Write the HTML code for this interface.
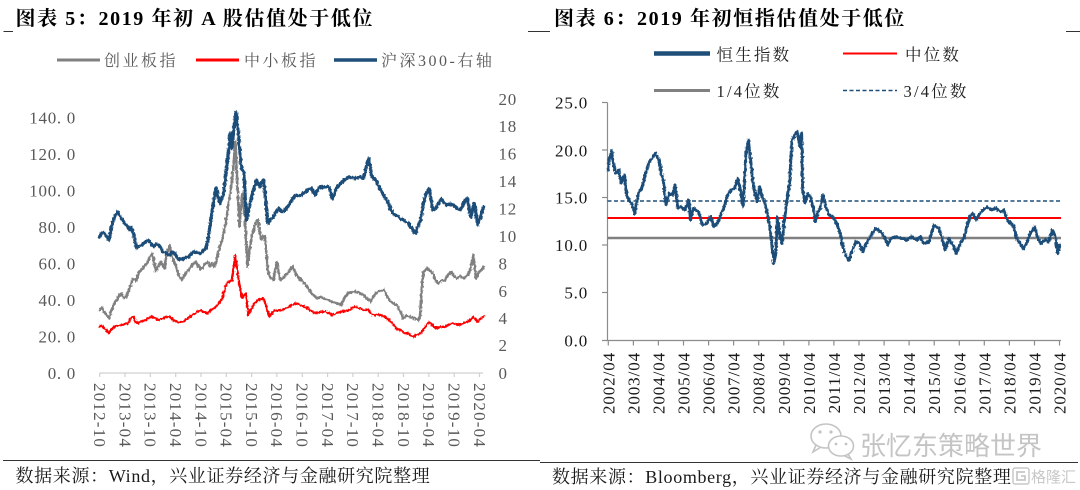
<!DOCTYPE html>
<html><head><meta charset="utf-8">
<style>
html,body{margin:0;padding:0;background:#fff;}
svg{display:block;}
.t{font-family:"Liberation Serif","Noto Serif CJK SC",serif;}
</style></head>
<body>
<svg width="1080" height="490" viewBox="0 0 1080 490" xmlns="http://www.w3.org/2000/svg">
<defs>
<filter id="jit" filterUnits="userSpaceOnUse" x="0" y="0" width="1080" height="490">
<feTurbulence type="fractalNoise" baseFrequency="0.55 0.35" numOctaves="2" seed="7" result="n"/>
<feDisplacementMap in="SourceGraphic" in2="n" scale="3.2" xChannelSelector="R" yChannelSelector="G"/>
</filter>
</defs>
<rect width="1080" height="490" fill="#fff"/>

<!-- Titles -->
<g class="t" font-weight="bold" font-size="20" fill="#000" letter-spacing="1.6">
<text x="15.5" y="25">图表 5：2019 年初 A 股估值处于低位</text>
<text x="554" y="25">图表 6：2019 年初恒指估值处于低位</text>
</g>
<g stroke="#333" stroke-width="1">
<line x1="3.5" y1="31.5" x2="13" y2="31.5"/>
<line x1="528" y1="31.5" x2="550" y2="31.5"/>
<line x1="1066" y1="31.5" x2="1080" y2="31.5"/>
</g>

<!-- LEFT LEGEND -->
<line x1="57" y1="60" x2="100" y2="60" stroke="#808080" stroke-width="3"/>
<line x1="196" y1="60" x2="239" y2="60" stroke="#ff0000" stroke-width="3"/>
<line x1="334" y1="60" x2="377" y2="60" stroke="#1f4e79" stroke-width="3.5"/>
<g class="t" font-size="16" fill="#595959" letter-spacing="2.5">
<text x="104" y="66">创业板指</text>
<text x="244" y="66">中小板指</text>
<text x="381" y="66">沪深300-右轴</text>
</g>

<!-- LEFT AXIS LABELS -->
<g class="t" font-size="17" fill="#595959" letter-spacing="0.7" text-anchor="end">
<text x="76" y="123.5">140. 0</text>
<text x="76" y="160">120. 0</text>
<text x="76" y="196.5">100. 0</text>
<text x="76" y="233">80. 0</text>
<text x="76" y="269.5">60. 0</text>
<text x="76" y="306">40. 0</text>
<text x="76" y="342.5">20. 0</text>
<text x="76" y="379">0. 0</text>
</g>
<g class="t" font-size="17" fill="#595959" letter-spacing="0.7">
<text x="498.5" y="105">20</text>
<text x="498.5" y="132">18</text>
<text x="498.5" y="159.5">16</text>
<text x="498.5" y="187">14</text>
<text x="498.5" y="214.5">12</text>
<text x="498.5" y="242">10</text>
<text x="498.5" y="269.5">8</text>
<text x="498.5" y="297">6</text>
<text x="498.5" y="324">4</text>
<text x="498.5" y="351">2</text>
<text x="498.5" y="379">0</text>
</g>

<!-- LEFT X AXIS -->
<line x1="99.7" y1="373" x2="483" y2="373" stroke="#d0d0d0" stroke-width="1.2"/>
<g stroke="#d0d0d0" stroke-width="1.2">
<line x1="99.7" y1="373" x2="99.7" y2="377"/><line x1="125" y1="373" x2="125" y2="377"/>
<line x1="150.3" y1="373" x2="150.3" y2="377"/><line x1="175.7" y1="373" x2="175.7" y2="377"/>
<line x1="201" y1="373" x2="201" y2="377"/><line x1="226.3" y1="373" x2="226.3" y2="377"/>
<line x1="251.6" y1="373" x2="251.6" y2="377"/><line x1="276.9" y1="373" x2="276.9" y2="377"/>
<line x1="302.3" y1="373" x2="302.3" y2="377"/><line x1="327.6" y1="373" x2="327.6" y2="377"/>
<line x1="352.9" y1="373" x2="352.9" y2="377"/><line x1="378.2" y1="373" x2="378.2" y2="377"/>
<line x1="403.5" y1="373" x2="403.5" y2="377"/><line x1="428.9" y1="373" x2="428.9" y2="377"/>
<line x1="454.2" y1="373" x2="454.2" y2="377"/><line x1="479.5" y1="373" x2="479.5" y2="377"/>
</g>
<g class="t" font-size="17" fill="#595959" letter-spacing="1.2">
<text transform="translate(94 383) rotate(90)">2012-10</text>
<text transform="translate(119.3 383) rotate(90)">2013-04</text>
<text transform="translate(144.6 383) rotate(90)">2013-10</text>
<text transform="translate(170 383) rotate(90)">2014-04</text>
<text transform="translate(195.3 383) rotate(90)">2014-10</text>
<text transform="translate(220.6 383) rotate(90)">2015-04</text>
<text transform="translate(245.9 383) rotate(90)">2015-10</text>
<text transform="translate(271.2 383) rotate(90)">2016-04</text>
<text transform="translate(296.6 383) rotate(90)">2016-10</text>
<text transform="translate(321.9 383) rotate(90)">2017-04</text>
<text transform="translate(347.2 383) rotate(90)">2017-10</text>
<text transform="translate(372.5 383) rotate(90)">2018-04</text>
<text transform="translate(397.8 383) rotate(90)">2018-10</text>
<text transform="translate(423.2 383) rotate(90)">2019-04</text>
<text transform="translate(448.5 383) rotate(90)">2019-10</text>
<text transform="translate(473.8 383) rotate(90)">2020-04</text>
</g>

<!-- LEFT SERIES -->
<g fill="none" stroke-linejoin="round" stroke-linecap="round" filter="url(#jit)">
<polyline stroke="#808080" stroke-width="2.6" points="99.7,310 101.5,307 103.8,311.7 106,314 109,318.3 111,312 114.2,303.3 117,300 119,296 121.2,293.3 124,298 126.3,296.7 129,290 131,284 133.3,278.3 136,281 138.5,273.3 141,270 143,268 145.4,265 148,262 150,257 152.3,253.3 154,262 155.8,271.7 158,266 161,261.7 163,266 164.4,268.3 166,258 168,250 169.6,245 171,252 172.5,258 174.8,263.3 177,270 179,276 181.7,280 184,276 186,273 188.7,270 191,266 193,264 195.6,261.7 198,265 200,269 202.5,268.3 205,264 207.7,261.7 210,266 212,263 214.6,266.7 217,258 219.8,246.7 222,240 225,226.7 226.5,218 228.5,203.3 230,195 231.9,180 233.5,165 235.4,141.7 236.3,160 237.1,180 238.3,205 239.5,226.7 241,205 242.3,193.3 243.5,205 245.1,220 246.3,245 247.5,266.7 248.5,258 249.9,246.7 252,236 254.4,226.7 256,222 257.9,220 259.5,230 261.3,240 263,236 264.8,236.7 266.5,255 268.3,273.3 271,278 273.5,280 275,270 276.9,261.7 278.5,272 280.4,280 283,278 285,275 287.3,273.3 290,270 292.5,266.7 295,272 297.7,276.7 301,280 304.6,283.3 308,288 311.5,293.3 314,296 316.7,298.3 320,297 323.7,298.3 328,300 332.3,301.7 336,303 341,305 344,299 347.9,293.3 352,292 356.5,291.7 360,293 363.5,295 367,299 370.4,301.7 373,297 375.6,293.3 380,291 384.2,290 387,296 389.4,300 393,303 396.3,305 400,311 403.3,318.3 406,316 410.2,316.7 414,318 418.8,320 420,316 421,300 422,285 423.5,272 427.5,268.3 430,271 432.7,273.3 435,279 437.9,283.3 441,281 444.8,280 448,275 451.7,271.7 454,276 456.9,278.3 460,276 463.8,278.3 466,276 469,273.3 471,266 473.5,255 474.8,268 476,278.3 478,274 479.4,271.7 481.5,270 483.6,266.7"/>
<polyline stroke="#ff0000" stroke-width="2.3" points="99.7,326.7 101.5,325 103.8,328.3 106,330 109,333.3 111,330 114.2,326.7 117,326 121.2,325 125,324 128.1,323.3 130,319 133.3,316.7 135,321 136.7,323.3 140,322 145.4,320 149,318 152.3,316.7 156,319 159.2,320 163,318 166,317 169.6,316.7 173,320 176.5,321.7 180,322 183.5,321.7 187,319 192.1,315 196,313 200.8,310 204,312 207.7,313.3 211,310 214.6,308.3 218,304 221.5,300 224,292 226.7,283.3 229,282 231.9,280 233.5,268 235.4,255 237,268 238.8,280 240.5,290 242.3,298.3 244,295 245.8,293.3 247.2,305 248.5,315 250.5,310 252.7,306.7 255,303 257.9,300 260.5,299 263.1,298.3 265,302 266.5,306.7 268,312 269.3,316.7 272,313 275.2,310 278,311 282.1,310 286,308 289,306.7 292,305 296,303.3 300,305 304.6,306.7 310,310 315,313.3 320,312 325.4,311.7 329,313 332.3,315 337,313 341,311.7 345,311 349.6,310 352,308 354.8,306.7 359,308 363.5,310 368.7,310 372.1,315 376,315 380.8,315 385,317 389.4,320 393,324 396.3,328.3 400,330 405,333.3 409,334 413.7,336.7 417,335 420.6,333.3 425,327 429.2,321.7 432,325 436.2,328.3 440,327 444.8,326.7 448,325 451.7,323.3 456,324 460.4,325 464,323 467.3,321.7 470,320 473.5,316.7 476,320 477.7,321.7 480,319 483.6,316.7"/>
<polyline stroke="#1f4e79" stroke-width="3.3" points="99.7,236.7 101.5,233 103.8,232.7 106,236 109,240 110.5,232 112.5,223.3 115,216 117.7,211.7 119.5,215 121.2,218.3 123,221 124.6,223.3 127,226 129.8,230 131.5,228 133.3,233.3 135,241 136.7,248.3 139,246 141.9,245 145,242 148.8,240 151,244 154,246.7 156.5,244 159.2,245 161,249 162.7,251.7 166,253 169.6,255 172,252 174.8,253.3 177,257 180,260 184,258 188.7,256.7 191,254 193.8,251.7 197,253 200.8,253.3 203.5,250 206,248.3 207.8,240 209.4,230 211,218 212.9,206.7 214.5,196 216.3,188.3 218,196 219.8,203.3 221.5,199 223.3,195 225,182 226.7,168.3 228.5,150 230.2,133.3 231.2,140 231.9,148.3 233.5,132 235,118 236.1,112.3 237.3,124 238.8,138.3 240,152 241.3,166.7 242.6,170 244,173.3 245.2,198 246.5,220 248,213 249.2,208.3 251.5,197 254.4,186.7 256,182 256.9,180 258.3,184 259.6,186.7 261.5,183 263.8,180 264.8,190 265.8,203.3 267,214 268.3,223.3 271,219 273.5,216.7 276,212 278.7,208.3 281,211 283.8,211.7 286.5,208 289,205 292.5,199 296,195 298.5,196 301.2,195 304,193 306.3,191.7 309,189 311.5,188.3 313.5,192 315,195 317.5,190 320.2,186.7 324,187 328.8,186.7 330.5,192 332.3,198.3 335,192 337.5,186.7 341,183 344.4,180 347,178 349.6,176.7 353,178 356.5,178.3 360,177 363.5,178.3 366,168 368.7,158.3 370.4,168 372.1,176.7 375.6,180 378,185 380.8,190 384,196 387.7,201.7 390,208 392.9,213.3 395.5,215 398.1,216.7 401,219 403.3,220 406,222 408.5,223.3 411.5,228 415.4,233.3 418,226 420.6,220 422.3,210 424,200 426.5,193 429.2,188.3 431,200 432.7,210 434.5,209 436.2,208.3 438.5,203 441.3,198.3 443.5,202 446.5,205 450,204 453.5,205 457,208 460.4,210 463,205 465,200 467.3,198.3 469,207 470.8,216.7 472.5,210 474.2,203.3 476,214 477.7,225 479.5,220 481.2,215 482.5,210 483.6,206.7"/>
</g>

<!-- RIGHT LEGEND -->
<line x1="654" y1="53.5" x2="710" y2="53.5" stroke="#1f4e79" stroke-width="4.5"/>
<line x1="843" y1="53.5" x2="897" y2="53.5" stroke="#ff0000" stroke-width="2"/>
<line x1="654" y1="90.5" x2="710" y2="90.5" stroke="#808080" stroke-width="3"/>
<line x1="843" y1="90.5" x2="897" y2="90.5" stroke="#1f4e79" stroke-width="1.5" stroke-dasharray="4,2.5"/>
<g class="t" font-size="16.5" fill="#222" letter-spacing="2.2">
<text x="716.5" y="60.5">恒生指数</text>
<text x="905" y="60.5">中位数</text>
<text x="716.5" y="97">1/4位数</text>
<text x="903.5" y="97">3/4位数</text>
</g>

<!-- RIGHT AXES -->
<g stroke="#8c8c8c" stroke-width="1.2">
<line x1="607.5" y1="102.5" x2="607.5" y2="340.5"/>
<line x1="602" y1="340.5" x2="1061" y2="340.5"/>
<line x1="602" y1="102.5" x2="607.5" y2="102.5"/>
<line x1="602" y1="150" x2="607.5" y2="150"/>
<line x1="602" y1="197.5" x2="607.5" y2="197.5"/>
<line x1="602" y1="245" x2="607.5" y2="245"/>
<line x1="602" y1="292.5" x2="607.5" y2="292.5"/>
</g>
<g stroke="#8c8c8c" stroke-width="1.2">
<line x1="608.3" y1="340.5" x2="608.3" y2="345.5"/><line x1="633.4" y1="340.5" x2="633.4" y2="345.5"/>
<line x1="658.4" y1="340.5" x2="658.4" y2="345.5"/><line x1="683.5" y1="340.5" x2="683.5" y2="345.5"/>
<line x1="708.6" y1="340.5" x2="708.6" y2="345.5"/><line x1="733.6" y1="340.5" x2="733.6" y2="345.5"/>
<line x1="758.7" y1="340.5" x2="758.7" y2="345.5"/><line x1="783.8" y1="340.5" x2="783.8" y2="345.5"/>
<line x1="808.9" y1="340.5" x2="808.9" y2="345.5"/><line x1="833.9" y1="340.5" x2="833.9" y2="345.5"/>
<line x1="859" y1="340.5" x2="859" y2="345.5"/><line x1="884.1" y1="340.5" x2="884.1" y2="345.5"/>
<line x1="909.1" y1="340.5" x2="909.1" y2="345.5"/><line x1="934.2" y1="340.5" x2="934.2" y2="345.5"/>
<line x1="959.3" y1="340.5" x2="959.3" y2="345.5"/><line x1="984.3" y1="340.5" x2="984.3" y2="345.5"/>
<line x1="1009.4" y1="340.5" x2="1009.4" y2="345.5"/><line x1="1034.5" y1="340.5" x2="1034.5" y2="345.5"/>
<line x1="1059.5" y1="340.5" x2="1059.5" y2="345.5"/>
</g>
<g class="t" font-size="17" fill="#1a1a1a" letter-spacing="0.8" text-anchor="end">
<text x="588" y="108.7">25.0</text>
<text x="588" y="156.3">20.0</text>
<text x="588" y="203.7">15.0</text>
<text x="588" y="251">10.0</text>
<text x="588" y="298.3">5.0</text>
<text x="588" y="346.5">0.0</text>
</g>
<g class="t" font-size="17" fill="#1a1a1a" letter-spacing="0.9" text-anchor="end">
<text transform="translate(614.3 352) rotate(-90)">2002/04</text>
<text transform="translate(639.4 352) rotate(-90)">2003/04</text>
<text transform="translate(664.4 352) rotate(-90)">2004/04</text>
<text transform="translate(689.5 352) rotate(-90)">2005/04</text>
<text transform="translate(714.6 352) rotate(-90)">2006/04</text>
<text transform="translate(739.6 352) rotate(-90)">2007/04</text>
<text transform="translate(764.7 352) rotate(-90)">2008/04</text>
<text transform="translate(789.8 352) rotate(-90)">2009/04</text>
<text transform="translate(814.9 352) rotate(-90)">2010/04</text>
<text transform="translate(839.9 352) rotate(-90)">2011/04</text>
<text transform="translate(865 352) rotate(-90)">2012/04</text>
<text transform="translate(890.1 352) rotate(-90)">2013/04</text>
<text transform="translate(915.1 352) rotate(-90)">2014/04</text>
<text transform="translate(940.2 352) rotate(-90)">2015/04</text>
<text transform="translate(965.3 352) rotate(-90)">2016/04</text>
<text transform="translate(990.3 352) rotate(-90)">2017/04</text>
<text transform="translate(1015.4 352) rotate(-90)">2018/04</text>
<text transform="translate(1040.5 352) rotate(-90)">2019/04</text>
<text transform="translate(1065.5 352) rotate(-90)">2020/04</text>
</g>

<!-- RIGHT REFERENCE LINES -->
<line x1="607.5" y1="201" x2="1061" y2="201" stroke="#1f4e79" stroke-width="1.5" stroke-dasharray="4,2.5"/>
<line x1="607.5" y1="218" x2="1061" y2="218" stroke="#ff0000" stroke-width="2"/>
<line x1="607.5" y1="238" x2="1061" y2="238" stroke="#808080" stroke-width="2.5"/>

<!-- HSI SERIES -->
<g filter="url(#jit)">
<g transform="translate(608.3 0) scale(0.9934 1) translate(-608.5 0)">
<polyline fill="none" stroke="#1f4e79" stroke-width="3" stroke-linejoin="round" stroke-linecap="round" points="608.5,170 609.2,160 611.7,150 613.4,163.3 616.2,173.3 618.9,170 621.3,183.3 624.8,175 626.5,193.3 629.3,200 631.7,203.3 635.2,213.3 638.7,193.3 642.1,188.3 645.6,175 649,163.3 652.5,158.3 656,153.3 659.4,160 661.8,173.3 663.9,180 666.3,205 669.8,193.3 673.3,195 675.7,185 678.5,208.3 681.9,206.7 685.4,210 689.5,200 691.3,220 694,208.3 699.2,211.7 703.4,225 707.9,223.3 711.3,216.7 714.8,226.7 718.3,223.3 721.7,215 725.2,206.7 728.7,195 732.1,190 735.6,188.3 739,178.3 741.5,190 744.2,206.7 747,153.3 749.4,140 751.8,160 754.6,186.7 758.1,201.7 760.8,186.7 763.3,196.7 765.7,201.7 768.5,213.3 771.2,226.7 773.7,250 775.4,263.3 777.1,253.3 778.8,216.7 781.3,236.7 783.3,243.3 785.8,220 788.5,200 791,183.3 793.4,140 796.2,135 798.9,131.7 801.3,146.7 803.1,133.3 804.1,190 806.5,203.3 809.3,193.3 811.7,196.7 814.5,206.7 816.9,221.7 819.7,211.7 822.1,206.7 824.5,195 827.3,206.7 830.8,215 834.2,216.7 838.4,223.3 841.8,233.3 844.6,246.7 848.1,256.7 850.8,260 854.3,250 857.8,241.7 861.2,243.3 864.7,251.7 868.2,243.3 872.3,236.7 877.5,228.3 882.7,231.7 886.2,236.7 889.6,245 893.1,238.3 898.3,236.7 903.5,238.3 908.7,240 913.8,236.7 919,240 922.5,236.7 926,243.3 931.2,241.7 936.3,225 941.5,228.3 945,240 947.8,250 951.2,238.3 955.4,245 958.8,253.3 963,243.3 966.5,238.3 969.2,226.7 972.7,216.7 975.5,213.3 978.9,220 982.4,213.3 985.8,210 990,206.7 994.2,210 998.7,208.3 1003.2,211.7 1006.6,210 1010.1,220 1013.5,223.3 1017,226.7 1019.4,238.3 1022.9,243.3 1026.3,248.3 1029.8,243.3 1033.3,233.3 1037.8,226.7 1040.2,236.7 1043.7,243.3 1048.2,240 1051.6,241.7 1055.8,230 1058.5,236.7 1061,253.3 1062.7,245"/>
</g>
</g>

<!-- WATERMARK -->
<g fill="none" stroke="#c4c4c4" stroke-width="1.6">
<ellipse cx="826" cy="436" rx="15" ry="12"/>
<path d="M816 445 L813 452 L821 447"/>
<ellipse cx="841" cy="446" rx="12.5" ry="10" fill="#fff"/>
<path d="M848 454 L851 459 L844 455.5"/>
</g>
<g fill="#c4c4c4">
<circle cx="820" cy="432" r="1.6"/><circle cx="831" cy="432" r="1.6"/>
<circle cx="836" cy="444" r="1.4"/><circle cx="846" cy="444" r="1.4"/>
</g>
<text x="860" y="455" font-family="'Noto Sans CJK SC','WenQuanYi Zen Hei',sans-serif" font-size="26" fill="#c4c4c4">张忆东策略世界</text>

<!-- SOURCE LINES -->
<line x1="3" y1="460.5" x2="540" y2="460.5" stroke="#333" stroke-width="1"/>
<line x1="540" y1="462.5" x2="1078" y2="462.5" stroke="#333" stroke-width="1"/>
<g class="t" font-size="18" fill="#1a1a1a" letter-spacing="0.65">
<text x="15.5" y="482">数据来源：Wind，兴业证券经济与金融研究院整理</text>
<text x="552" y="483">数据来源：Bloomberg，兴业证券经济与金融研究院整理</text>
</g>

<!-- logo -->
<rect x="1013" y="468" width="16" height="16" rx="2" fill="#fff" stroke="#c8c8c8" stroke-width="1.5"/>
<path d="M1025 472 L1017 472 L1017 480 L1025 480 L1025 476 L1021 476" fill="none" stroke="#c8c8c8" stroke-width="1.8"/>
<text x="1031" y="482" font-family="'Noto Sans CJK SC','WenQuanYi Zen Hei',sans-serif" font-size="15" fill="#c8c8c8">格隆汇</text>
</svg>
</body></html>
